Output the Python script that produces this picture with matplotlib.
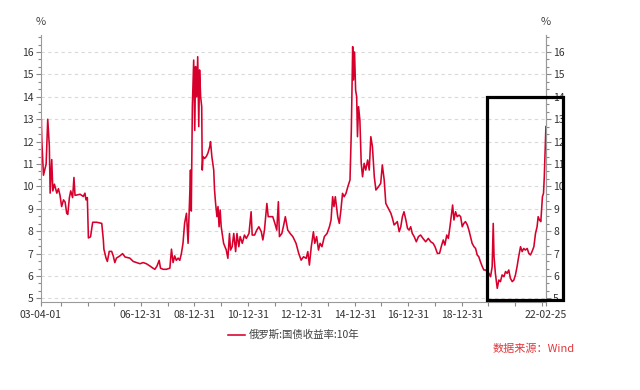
import matplotlib
matplotlib.use("Agg")
import matplotlib.pyplot as plt
import matplotlib.dates as mdates
from matplotlib.patches import Rectangle
from matplotlib.ticker import MultipleLocator, AutoMinorLocator, FixedLocator
import pandas as pd

plt.rcParams['font.family'] = ['Noto Sans CJK SC', 'DejaVu Sans']

# decimal year
years = [
    2003.25, 2003.27, 2003.29, 2003.35, 2003.45, 2003.51, 2003.53, 2003.57, 2003.60, 2003.66,
    2003.70, 2003.76, 2003.85, 2003.91, 2003.97, 2004.03, 2004.10, 2004.16, 2004.22, 2004.26,
    2004.32, 2004.37, 2004.44, 2004.49, 2004.53, 2004.72, 2004.84, 2004.90, 2004.94, 2004.99,
    2005.03, 2005.11, 2005.19, 2005.34, 2005.53, 2005.59, 2005.61, 2005.69, 2005.74, 2005.81,
    2005.90, 2005.96, 2006.02, 2006.08, 2006.21, 2006.31, 2006.40, 2006.58, 2006.71, 2006.83,
    2006.96, 2007.08, 2007.20, 2007.33, 2007.45, 2007.52, 2007.60, 2007.68, 2007.73, 2007.83,
    2007.95, 2008.08, 2008.14, 2008.20, 2008.26, 2008.32, 2008.39, 2008.45, 2008.51,
    2008.57, 2008.63, 2008.70, 2008.76, 2008.82, 2008.85, 2008.88, 2008.92, 2008.97, 2009.01,
    2009.04, 2009.08, 2009.12, 2009.16, 2009.19, 2009.23, 2009.27, 2009.29, 2009.32, 2009.38,
    2009.44, 2009.50, 2009.57, 2009.60, 2009.65, 2009.72, 2009.75, 2009.79, 2009.84, 2009.88,
    2009.92, 2009.96, 2010.00, 2010.09, 2010.19, 2010.25, 2010.31, 2010.35, 2010.41, 2010.47,
    2010.54, 2010.59, 2010.66, 2010.71, 2010.79, 2010.87, 2010.94, 2011.04, 2011.12, 2011.16,
    2011.25, 2011.33, 2011.41, 2011.50, 2011.56, 2011.62, 2011.71, 2011.76, 2011.83, 2011.93,
    2012.01, 2012.08, 2012.14, 2012.18, 2012.27, 2012.34, 2012.40, 2012.49, 2012.58, 2012.68,
    2012.80, 2012.90, 2012.99, 2013.08, 2013.18, 2013.24, 2013.30, 2013.37, 2013.45, 2013.50,
    2013.57, 2013.64, 2013.70, 2013.77, 2013.86, 2013.96, 2014.05, 2014.11, 2014.17, 2014.22,
    2014.27, 2014.36, 2014.42, 2014.48, 2014.54, 2014.60, 2014.67, 2014.74, 2014.82, 2014.87,
    2014.92, 2014.95, 2014.99, 2015.03, 2015.07, 2015.10, 2015.14, 2015.19, 2015.24, 2015.29,
    2015.35, 2015.41, 2015.48, 2015.54, 2015.60, 2015.66, 2015.73, 2015.79, 2015.89,
    2015.97, 2016.03, 2016.10, 2016.16, 2016.22, 2016.28, 2016.35, 2016.41, 2016.47, 2016.53,
    2016.59, 2016.66, 2016.72, 2016.78, 2016.84, 2016.91, 2016.97, 2017.03, 2017.09, 2017.15,
    2017.22, 2017.30, 2017.38, 2017.46, 2017.55, 2017.65, 2017.75, 2017.84, 2017.93, 2018.00,
    2018.09, 2018.17, 2018.25, 2018.31, 2018.37, 2018.44, 2018.50, 2018.56, 2018.62, 2018.66,
    2018.71, 2018.77, 2018.83, 2018.90, 2018.96, 2019.02, 2019.08, 2019.14, 2019.21, 2019.27,
    2019.33, 2019.39, 2019.46, 2019.52, 2019.58, 2019.64, 2019.70, 2019.77, 2019.83, 2019.89,
    2019.95, 2020.02, 2020.08, 2020.14, 2020.18, 2020.21, 2020.26, 2020.33, 2020.39, 2020.45,
    2020.51, 2020.58, 2020.64, 2020.70, 2020.76, 2020.82, 2020.89, 2020.95, 2021.01, 2021.07,
    2021.13, 2021.20, 2021.26, 2021.32, 2021.38, 2021.45, 2021.51, 2021.57, 2021.63, 2021.70,
    2021.76, 2021.82, 2021.86, 2021.91, 2021.96, 2022.02, 2022.06, 2022.09, 2022.12, 2022.15,
]
yields = [
    12.2, 13.0, 12.0, 10.5, 11.0, 13.0, 12.6, 11.8, 9.7, 11.2,
    9.8, 10.1, 9.7, 9.9, 9.6, 9.1, 9.4, 9.3, 8.8, 8.75,
    9.5, 9.8, 9.5, 10.4, 9.6, 9.65, 9.55, 9.7, 9.4, 9.5,
    7.7, 7.75, 8.4, 8.4, 8.35, 7.6, 7.2, 6.8, 6.65, 7.1,
    7.1, 6.9, 6.6, 6.8, 6.9, 7.0, 6.85, 6.8, 6.65, 6.6,
    6.55, 6.6, 6.55, 6.45, 6.35, 6.3, 6.45, 6.7, 6.35, 6.3,
    6.3, 6.35, 7.2, 6.6, 6.9, 6.7, 6.8, 6.7, 7.0,
    7.46, 8.35, 8.8, 7.46, 9.54, 10.73, 8.9, 13.56, 15.64, 12.5,
    15.35, 14.0, 15.79, 12.67, 15.2, 14.0, 13.56, 10.73, 11.33, 11.25,
    11.33, 11.48, 11.77, 12.0, 11.33, 10.73, 9.84, 9.24, 8.65, 9.1,
    8.2, 8.95, 8.2, 7.46, 7.16, 6.79, 7.9, 7.16, 7.31, 7.9,
    7.09, 7.9, 7.31, 7.76, 7.46, 7.83, 7.68, 7.9, 8.87, 7.83,
    7.83, 8.05, 8.2, 7.98, 7.61, 8.05, 9.24, 8.65, 8.65, 8.65,
    8.35, 8.05, 9.32, 7.76, 7.9, 8.28, 8.65, 8.05, 7.9, 7.76,
    7.46, 7.01, 6.71, 6.86, 6.79, 7.09, 6.49, 7.31, 7.98, 7.46,
    7.76, 7.16, 7.46, 7.31, 7.76, 7.9, 8.2, 8.5, 9.54, 9.1,
    9.54, 8.65, 8.35, 8.95, 9.69, 9.54, 9.69, 9.99, 10.29, 12.52,
    16.24, 14.75, 16.0, 14.3, 14.0, 12.22, 13.56, 12.96, 11.03, 10.43,
    11.03, 10.73, 11.18, 10.73, 12.22, 11.77, 10.43, 9.84, 9.99,
    10.14, 10.96, 10.29, 9.24, 9.1, 8.95, 8.8, 8.57, 8.28, 8.35,
    8.43, 7.98, 8.2, 8.65, 8.87, 8.5, 8.13, 8.05, 8.2, 7.9,
    7.76, 7.53, 7.76, 7.83, 7.68, 7.53, 7.68, 7.53, 7.46, 7.31,
    7.01, 7.01, 7.38, 7.61, 7.38, 7.83, 7.68, 8.2, 8.8, 9.17,
    8.5, 8.87, 8.65, 8.72, 8.65, 8.2, 8.35, 8.43, 8.28, 8.05,
    7.76, 7.46, 7.31, 7.23, 6.94, 6.86, 6.64, 6.42, 6.27, 6.27,
    6.2, 6.12, 5.97, 6.42, 8.35, 6.86, 6.12, 5.45, 5.82, 5.75,
    6.05, 5.97, 6.2, 6.12, 6.27, 5.9, 5.75, 5.82, 6.05, 6.42,
    6.86, 7.31, 7.09, 7.23, 7.16, 7.23, 7.01, 6.94, 7.09, 7.31,
    7.9, 8.2, 8.65, 8.5, 8.43, 9.54, 9.69, 10.43, 11.63, 12.67,
]

label_dates = ["2003-04-01", "2006-12-31", "2008-12-31", "2010-12-31", "2012-12-31",
               "2014-12-31", "2016-12-31", "2018-12-31", "2022-02-25"]
label_text = ["03-04-01", "06-12-31", "08-12-31", "10-12-31", "12-12-31",
              "14-12-31", "16-12-31", "18-12-31", "22-02-25"]

series_name = "俄罗斯:国债收益率:10年"
source_text = "数据来源：Wind"
line_color = "#d7002c"


def to_date(y):
    yr = int(y)
    start = pd.Timestamp(yr, 1, 1)
    end = pd.Timestamp(yr + 1, 1, 1)
    return start + (end - start) * (y - yr)


dates = [to_date(v) for v in years]

fig = plt.figure(figsize=(6.4, 3.9), dpi=100)
ax = fig.add_axes([0.0636, 0.2256, 0.853 - 0.0636, 0.9103 - 0.2256])

line, = ax.plot(dates, yields, color=line_color, lw=1.15, label=series_name)

ax.set_xlim(pd.Timestamp(label_dates[0]), pd.Timestamp(label_dates[-1]))
ax.set_ylim(4.84, 16.76)

ax.xaxis.set_major_locator(FixedLocator(mdates.date2num([pd.Timestamp(d) for d in label_dates])))
ax.set_xticklabels(label_text)
year_ends = pd.date_range("2003-12-31", "2021-12-31", freq="YE")
ax.xaxis.set_minor_locator(FixedLocator(mdates.date2num(year_ends)))

ax.yaxis.set_major_locator(MultipleLocator(1))
ax.yaxis.set_minor_locator(AutoMinorLocator(3))
ax.grid(axis='y', color='#d9d9d9', ls=(0, (3, 3)), lw=0.8)

ax2 = ax.twinx()
ax2.set_ylim(ax.get_ylim())
ax2.yaxis.set_major_locator(MultipleLocator(1))
ax2.yaxis.set_minor_locator(AutoMinorLocator(3))

for a in (ax, ax2):
    a.spines['top'].set_visible(False)
    for s in ('left', 'right', 'bottom'):
        a.spines[s].set_color('#9a9a9a')
        a.spines[s].set_linewidth(0.8)
    a.tick_params(which='both', colors='#8a8a8a', labelcolor='#333333', labelsize=7.5, width=0.8)
    a.tick_params(which='major', length=3.6, pad=1.5)
    a.tick_params(which='minor', length=2.2)
ax.tick_params(axis='x', which='both', length=3.2, pad=2.5)
ax2.spines['left'].set_visible(False)
ax2.spines['bottom'].set_visible(False)

fig.text(0.0636, 1 - 22 / 390, "%", ha='center', va='center', fontsize=8, color='#444444')
fig.text(0.853, 1 - 22 / 390, "%", ha='center', va='center', fontsize=8, color='#444444')

# highlight box around the latest period
box_left = mdates.date2num(pd.Timestamp("2019-12-10"))
box_right = mdates.date2num(pd.Timestamp("2022-10-12"))
ax2.add_patch(Rectangle((box_left, 4.92), box_right - box_left, 14.0 - 4.92,
                        fill=False, ec='black', lw=2.3, clip_on=False, zorder=10))

fig.legend(handles=[line], loc='center', bbox_to_anchor=(0.459, 0.141), frameon=False,
           fontsize=7.5, handlelength=1.6, handletextpad=0.4, labelcolor='#404040')
fig.text(0.769, 1 - 349 / 390, source_text, ha='left', va='center', fontsize=8, color='#e0383c')

fig.savefig("out.png", dpi=100)
